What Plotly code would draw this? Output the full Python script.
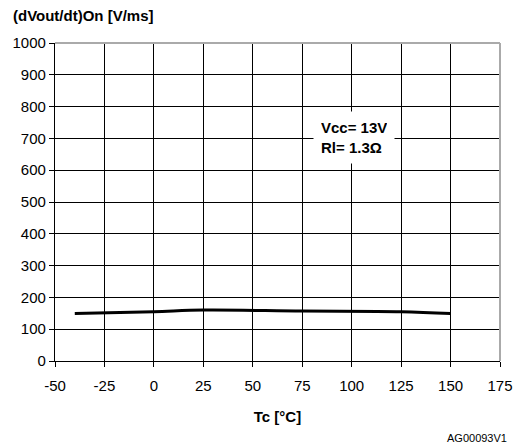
import plotly.graph_objects as go

temps = [-40, 0, 25, 75, 125, 150]
slew = [149, 155, 160, 157, 155, 149]
x_ticks = [-50, -25, 0, 25, 50, 75, 100, 125, 150, 175]
y_ticks = [0, 100, 200, 300, 400, 500, 600, 700, 800, 900, 1000]

FONT = "Liberation Sans, Arial, sans-serif"

fig = go.Figure()
fig.add_trace(go.Scatter(x=temps, y=slew, mode="lines",
                         line=dict(color="black", width=3), line_shape="spline",
                         hoverinfo="skip", showlegend=False))

fig.update_layout(
    width=525, height=444,
    margin=dict(l=53, r=21, t=43, b=83),
    paper_bgcolor="white", plot_bgcolor="white",
    font=dict(family=FONT, size=15, color="black"),
    showlegend=False,
)
fig.update_xaxes(
    range=[-50, 175], tickvals=x_ticks, ticktext=[str(v) for v in x_ticks],
    showgrid=True, gridcolor="black", gridwidth=1.3,
    showline=True, linecolor="black", linewidth=1.3,
    ticks="outside", ticklen=5, tickcolor="black", tickwidth=1.3,
    ticklabelstandoff=6,
    zeroline=False, fixedrange=True,
    title=dict(text="<b>Tc [°C]</b>", font=dict(size=15), standoff=18),
)
fig.update_yaxes(
    range=[0, 1000], tickvals=y_ticks, ticktext=[str(v) for v in y_ticks],
    showgrid=True, gridcolor="black", gridwidth=1.3,
    showline=True, linecolor="black", linewidth=1.3,
    ticks="outside", ticklen=5, tickcolor="black", tickwidth=1.3,
    zeroline=False, fixedrange=True,
)
# grey top and right border
fig.add_shape(type="line", xref="paper", yref="paper", x0=0, x1=1, y0=1, y1=1,
              line=dict(color="#aaaaaa", width=2))
fig.add_shape(type="line", xref="paper", yref="paper", x0=1, x1=1, y0=0, y1=1,
              line=dict(color="#aaaaaa", width=2))

fig.add_annotation(x=101, y=703, xref="x", yref="y",
                   text="<b>Vcc= 13V<br>Rl= 1.3Ω</b>", showarrow=False,
                   align="left", bgcolor="white", width=66, height=37, borderpad=7,
                   font=dict(size=15))

fig.add_annotation(x=0, y=1, xref="paper", yref="paper", xanchor="left", yanchor="bottom",
                   xshift=-44, yshift=17, text="<b>(dVout/dt)On [V/ms]</b>",
                   showarrow=False, font=dict(size=15))
fig.add_annotation(x=1, y=0, xref="paper", yref="paper", xanchor="right", yanchor="top",
                   xshift=9, yshift=-69, text="AG00093V1",
                   showarrow=False, font=dict(size=11))

fig.write_html("out.html")
